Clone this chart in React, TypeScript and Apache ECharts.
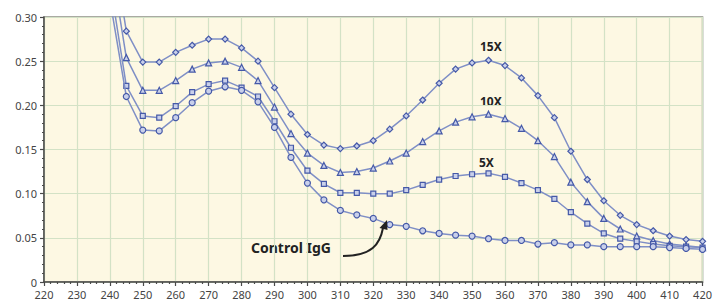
import React, { useEffect, useRef } from "react";
import * as echarts from "echarts";

const wavelengths = [240, 245, 250, 255, 260, 265, 270, 275, 280, 285, 290, 295, 300, 305, 310, 315, 320, 325, 330, 335, 340, 345, 350, 355, 360, 365, 370, 375, 380, 385, 390, 395, 400, 405, 410, 415, 420];

const x15 = [0.40, 0.284, 0.249, 0.249, 0.260, 0.268, 0.275, 0.275, 0.265, 0.250, 0.220, 0.190, 0.167, 0.155, 0.151, 0.154, 0.160, 0.173, 0.188, 0.206, 0.225, 0.241, 0.248, 0.251, 0.245, 0.231, 0.211, 0.186, 0.148, 0.116, 0.092, 0.0755, 0.065, 0.058, 0.052, 0.048, 0.046];
const x10 = [0.37, 0.254, 0.217, 0.217, 0.228, 0.241, 0.248, 0.250, 0.243, 0.228, 0.198, 0.168, 0.146, 0.132, 0.124, 0.125, 0.129, 0.137, 0.146, 0.159, 0.171, 0.181, 0.187, 0.190, 0.185, 0.174, 0.160, 0.142, 0.113, 0.091, 0.072, 0.060, 0.052, 0.047, 0.043, 0.041, 0.039];
const x5 = [0.34, 0.222, 0.188, 0.186, 0.199, 0.215, 0.224, 0.228, 0.220, 0.210, 0.182, 0.152, 0.126, 0.111, 0.101, 0.101, 0.100, 0.100, 0.104, 0.110, 0.116, 0.120, 0.122, 0.123, 0.119, 0.112, 0.104, 0.094, 0.079, 0.066, 0.055, 0.049, 0.046, 0.043, 0.041, 0.040, 0.039];
const control = [0.32, 0.210, 0.172, 0.171, 0.186, 0.203, 0.216, 0.221, 0.217, 0.204, 0.175, 0.141, 0.112, 0.093, 0.081, 0.076, 0.072, 0.065, 0.063, 0.058, 0.055, 0.053, 0.052, 0.049, 0.047, 0.047, 0.043, 0.0445, 0.042, 0.042, 0.040, 0.040, 0.040, 0.040, 0.039, 0.038, 0.037];

const seriesNames = ["15X", "10X", "5X", "Control IgG"];
const seriesValues = [x15, x10, x5, control];
const seriesSymbols = ["diamond", "triangle", "rect", "circle"];

export default function App() {
  const ref = useRef<HTMLDivElement>(null);
  useEffect(() => {
    if (!ref.current) return;
    const chart = echarts.init(ref.current, null, { renderer: "svg" });
    const font = "'Noto Sans', sans-serif";
    chart.setOption({
      animation: false,
      backgroundColor: "#ffffff",
      grid: {
        left: 44,
        right: 4,
        top: 17,
        bottom: 19,
        show: true,
        backgroundColor: "#fdf8e3",
        borderColor: "#8e8e84",
        borderWidth: 1.5,
      },
      xAxis: {
        type: "value",
        min: 220,
        max: 420,
        interval: 10,
        axisLine: { show: true, onZero: false, lineStyle: { color: "#4a4a4a", width: 1.5 } },
        axisTick: { show: true, length: 4, lineStyle: { color: "#4a4a4a", width: 1.2 } },
        minorTick: { show: true, splitNumber: 5, length: 2, lineStyle: { color: "#4a4a4a", width: 1.2 } },
        splitLine: { show: true, lineStyle: { color: "#d3e2c6", width: 1.2 } },
        axisLabel: { color: "#444", fontSize: 11, lineHeight: 11, fontFamily: font, margin: 7 },
      },
      yAxis: {
        type: "value",
        min: 0,
        max: 0.3,
        interval: 0.05,
        axisLine: { show: true, onZero: false, lineStyle: { color: "#4a4a4a", width: 1.5 } },
        axisTick: { show: true, length: 4, lineStyle: { color: "#4a4a4a", width: 1.2 } },
        minorTick: { show: true, splitNumber: 5, length: 2, lineStyle: { color: "#4a4a4a", width: 1.2 } },
        splitLine: { show: true, lineStyle: { color: "#d3e2c6", width: 1.2 } },
        axisLabel: {
          color: "#444",
          fontSize: 11,
          lineHeight: 8,
          fontFamily: font,
          margin: 7,
          formatter: (v: number) => (v === 0 ? "0" : v.toFixed(2)),
        },
      },
      series: seriesValues.map((vals, i) => ({
        name: seriesNames[i],
        type: "line",
        clip: true,
        data: wavelengths.map((w, j) => [w, vals[j]]),
        symbol: seriesSymbols[i],
        symbolSize: seriesSymbols[i] === "rect" ? 5 : 6,
        showAllSymbol: true,
        lineStyle: { color: "#7f8fc6", width: 1.5 },
        itemStyle: { color: "#c9d0ea", borderColor: "#4559a8", borderWidth: 1.2 },
        z: 5 + i,
      })),
      graphic: [
        { type: "text", left: 480, top: 40, style: { text: "15X", font: `bold 12px ${font}`, fill: "#222" } },
        { type: "text", left: 480, top: 95, style: { text: "10X", font: `bold 12px ${font}`, fill: "#222" } },
        { type: "text", left: 479, top: 156, style: { text: "5X", font: `bold 12px ${font}`, fill: "#222" } },
        { type: "text", left: 251, top: 240, style: { text: "Control IgG", font: `bold 14px ${font}`, fill: "#222" } },
        {
          type: "bezierCurve",
          shape: { x1: 343, y1: 256, x2: 383, y2: 228, cpx1: 372, cpy1: 256, cpx2: 380, cpy2: 244 },
          style: { stroke: "#222", lineWidth: 2, fill: "none" },
          z: 20,
        },
        {
          type: "polygon",
          shape: { points: [[387, 220], [379.5, 228], [387.5, 230]] },
          style: { fill: "#222" },
          z: 20,
        },
      ],
    });
    return () => chart.dispose();
  }, []);
  return <div ref={ref} style={{ position: "absolute", left: 0, top: 0, width: 715, height: 301 }} />;
}
